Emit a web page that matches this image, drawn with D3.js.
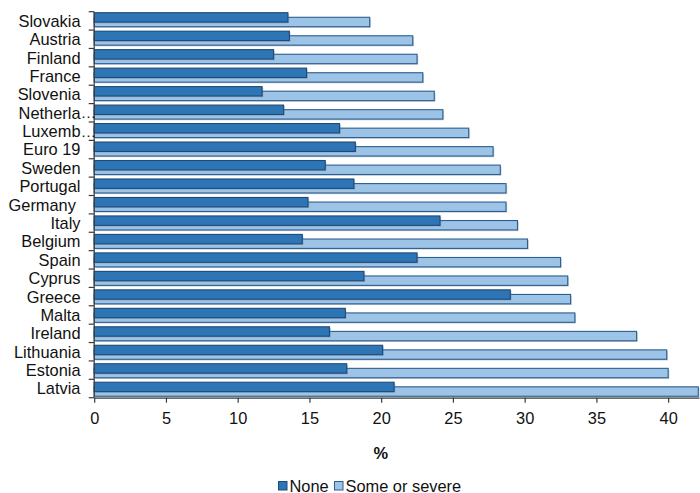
<!DOCTYPE html>
<html>
<head>
<meta charset="utf-8">
<script src="https://cdn.jsdelivr.net/npm/d3@7"></script>
<style>
  html, body { margin: 0; padding: 0; background: #fff; }
  svg { display: block; font-family: "Liberation Sans", Arial, sans-serif; }
</style>
</head>
<body>
<svg id="chart" width="700" height="493"></svg>
<script>
// Countries, top to bottom
const categories = [
  "Slovakia", "Austria", "Finland", "France", "Slovenia", "Netherla\u2026",
  "Luxemb\u2026", "Euro 19", "Sweden", "Portugal", "Germany ", "Italy",
  "Belgium", "Spain", "Cyprus", "Greece", "Malta", "Ireland",
  "Lithuania", "Estonia", "Latvia"
];
// Share (%) with no limitation
const noneValues = [
  13.5, 13.6, 12.5, 14.8, 11.7, 13.2, 17.1, 18.2, 16.1, 18.1, 14.9,
  24.1, 14.5, 22.5, 18.8, 29.0, 17.5, 16.4, 20.1, 17.6, 20.9
];
// Share (%) with some or severe limitation
const someValues = [
  19.2, 22.2, 22.5, 22.9, 23.7, 24.3, 26.1, 27.8, 28.3, 28.7, 28.7,
  29.5, 30.2, 32.5, 33.0, 33.2, 33.5, 37.8, 39.9, 40.0, 42.1
];
const xTicks = [0, 5, 10, 15, 20, 25, 30, 35, 40];
const seriesNames = ["None", "Some or severe"];

const colors = {
  noneFill: "#2e75b6", noneStroke: "#1c4a78",
  someFill: "#9dc3e6", someStroke: "#2b5f91",
  axis: "#3a3a3a", text: "#111"
};
const fontSize = 16.4;

const svg = d3.select("#chart");
const left = 94.2, right = 699;
const x = d3.scaleLinear().domain([0, 42.15]).range([left, right]);

// band scale for the category slots on the axis
const yAxisBand = d3.scaleBand().domain(categories).range([11.7, 397.7]);
// band scale the bars are placed on
const yBar = d3.scaleBand().domain(categories).range([11.5, 399.5]);

const rows = categories.map((c, i) => ({ c, none: noneValues[i], some: someValues[i] }));

// bars with a soft offset shadow; "Some or severe" sits underneath
const gBars = svg.append("g");
const barH = 9.4;
function drawBars(key, dy, fill, stroke) {
  gBars.selectAll(null).data(rows).enter().append("rect")
    .attr("x", x(0) + 1.2)
    .attr("y", d => yBar(d.c) + dy + 1.2)
    .attr("width", d => x(d[key]) - x(0))
    .attr("height", barH)
    .attr("fill", "#6d7f93").attr("opacity", 0.4);
  gBars.selectAll(null).data(rows).enter().append("rect")
    .attr("x", x(0))
    .attr("y", d => yBar(d.c) + dy)
    .attr("width", d => x(d[key]) - x(0))
    .attr("height", barH)
    .attr("fill", fill)
    .attr("stroke", stroke)
    .attr("stroke-width", 1.1);
}
drawBars("some", 5.8, colors.someFill, colors.someStroke);
drawBars("none", 1.2, colors.noneFill, colors.noneStroke);

// y axis line and boundary ticks
const gy = svg.append("g");
gy.append("line")
  .attr("x1", left).attr("x2", left)
  .attr("y1", yAxisBand.range()[0]).attr("y2", yAxisBand.range()[1])
  .attr("stroke", colors.axis).attr("stroke-width", 1.2);
const bounds = categories.map(c => yAxisBand(c)).concat([yAxisBand.range()[1]]);
gy.selectAll(null).data(bounds).enter().append("line")
  .attr("x1", left - 5.5).attr("x2", left)
  .attr("y1", d => d).attr("y2", d => d)
  .attr("stroke", colors.axis).attr("stroke-width", 1.2);

// category labels (truncated names keep their ellipsis past the label edge)
const labelX = 80.5;
categories.forEach(c => {
  const yc = yAxisBand(c) + yAxisBand.bandwidth() / 2;
  const truncated = c.endsWith("\u2026");
  const base = truncated ? c.slice(0, -1) : c;
  gy.append("text")
    .attr("x", labelX).attr("y", yc)
    .attr("dy", "0.36em")
    .attr("text-anchor", "end")
    .attr("font-size", fontSize)
    .attr("fill", colors.text)
    .style("white-space", "pre")
    .attr("xml:space", "preserve")
    .text(base);
  if (truncated) {
    gy.append("text")
      .attr("x", labelX + 0.3).attr("y", yc)
      .attr("dy", "0.36em")
      .attr("font-size", fontSize - 1)
      .attr("fill", colors.text)
      .text("\u2026");
  }
});

// x axis
const gx = svg.append("g")
  .attr("transform", `translate(0,${yAxisBand.range()[1]})`)
  .call(d3.axisBottom(x).tickValues(xTicks).tickSize(5).tickSizeOuter(0).tickPadding(10));
gx.select(".domain").attr("stroke", colors.axis).attr("stroke-width", 1.2);
gx.selectAll(".tick line").attr("stroke", colors.axis).attr("stroke-width", 1.2);
gx.selectAll(".tick text")
  .attr("font-size", fontSize)
  .attr("font-family", "Liberation Sans, Arial, sans-serif")
  .attr("fill", colors.text);

// axis title
svg.append("text")
  .attr("x", (x(0) + x(40)) / 2 - 0.5).attr("y", 459)
  .attr("text-anchor", "middle")
  .attr("font-size", fontSize).attr("font-weight", "bold")
  .attr("fill", colors.text)
  .text("%");

// legend
const legend = svg.append("g");
const legendItems = [
  { name: seriesNames[0], fill: colors.noneFill, stroke: colors.noneStroke, x: 278.5 },
  { name: seriesNames[1], fill: colors.someFill, stroke: colors.someStroke, x: 334.5 }
];
legendItems.forEach(it => {
  legend.append("rect")
    .attr("x", it.x).attr("y", 481.5)
    .attr("width", 8.5).attr("height", 8.5)
    .attr("fill", it.fill).attr("stroke", it.stroke).attr("stroke-width", 1);
  legend.append("text")
    .attr("x", it.x + 11).attr("y", 491.5)
    .attr("font-size", fontSize)
    .attr("fill", colors.text)
    .text(it.name);
});
</script>
</body>
</html>
